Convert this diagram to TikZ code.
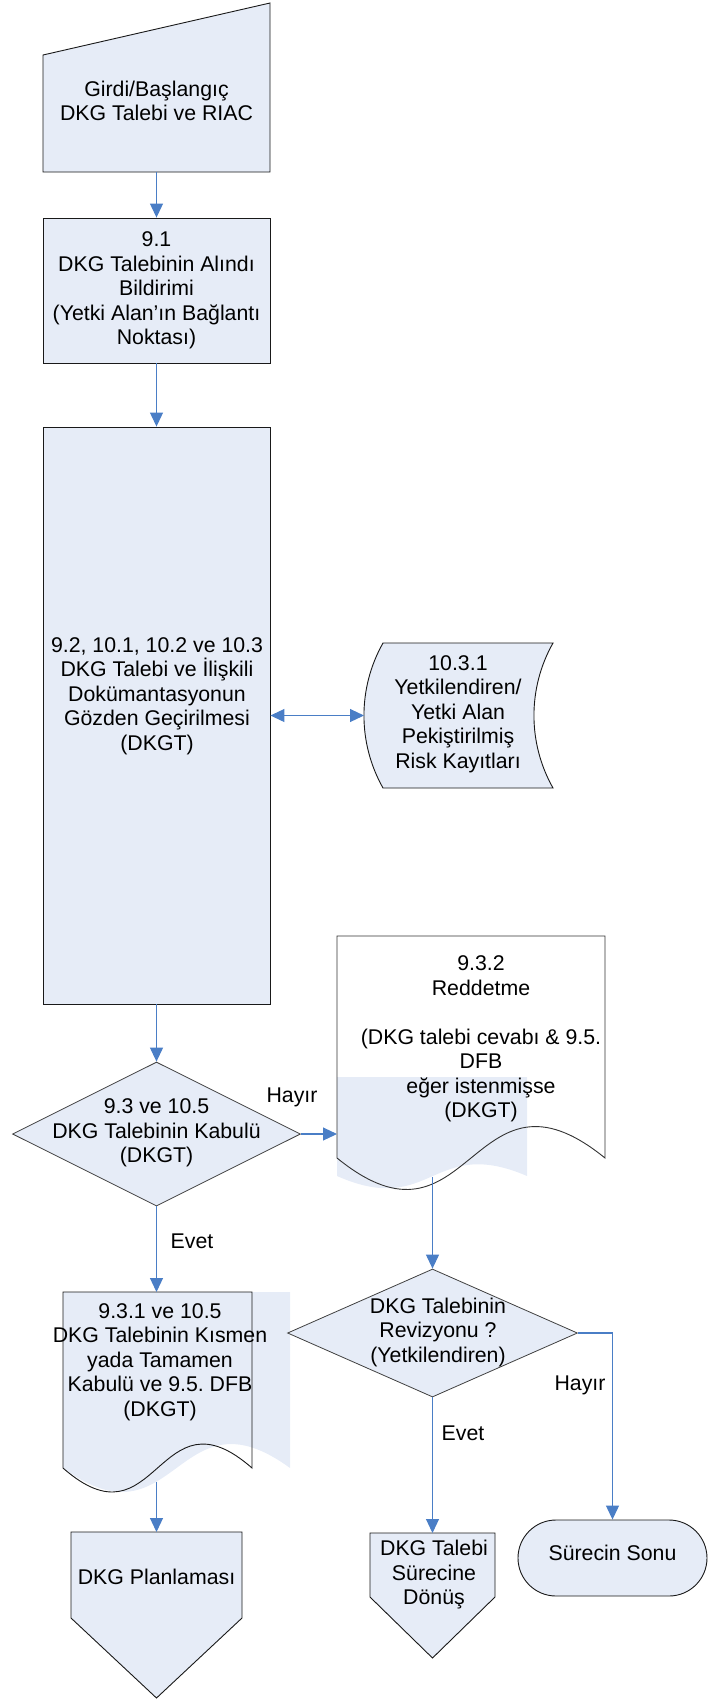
\documentclass[tikz,border=0pt]{standalone}
\usepackage{fontspec}
\setmainfont{Liberation Sans}
\usetikzlibrary{shapes.geometric,arrows.meta}
\definecolor{shapefill}{HTML}{E6ECF7}
\definecolor{flowblue}{HTML}{4A7EC6}
\newcommand{\pxu}{0.5pt}
\begin{document}
\frenchspacing
\begin{tikzpicture}[x=\pxu, y=-\pxu,
	txt/.style={inner sep=0pt, align=center, font=\fontsize{10.65}{12.25}\selectfont},
	box/.style={draw=black!90, line width=0.45pt, fill=shapefill, inner sep=0pt},
	decision/.style={diamond, draw=black!75, line width=0.4pt, fill=shapefill, inner sep=0pt},
	flow/.style={draw=flowblue, line width=0.55pt, -{Triangle[width=6.5pt, length=7pt]}},
	flowboth/.style={draw=flowblue, line width=0.55pt, {Triangle[width=6.5pt, length=7pt]}-{Triangle[width=6.5pt, length=7pt]}}]

	\useasboundingbox (0,0) rectangle (715,1699);

	\draw[box] (43,55) -- (270,3) -- (270,172) -- (43,172) -- cycle;
	\node[txt] (girdi) at (156.5,101) {Girdi/Başlangıç\\DKG Talebi ve RIAC};
	\coordinate (girdi-s) at (156.5,172);

	\node[box, txt, minimum width=227*\pxu, minimum height=145*\pxu] (b91) at (156.5,290.5) {9.1\\DKG Talebinin Alındı\\Bildirimi\\(Yetki Alan’ın Bağlantı\\Noktası)};

	\node[box, minimum width=227*\pxu, minimum height=577*\pxu] (b92) at (156.5,715.5) {};
	\node[txt] (b92t) at (157,696) {9.2, 10.1, 10.2 ve 10.3\\DKG Talebi ve İlişkili\\Dokümantasyonun\\Gözden Geçirilmesi\\(DKGT)};

	\draw[box] (383,643) -- (553,643) .. controls (527.6,688) and (527.6,743) .. (553,788) -- (383,788) .. controls (357.6,743) and (357.6,688) .. (383,643) -- cycle;
	\node[txt] (risk) at (458,714) {10.3.1\\Yetkilendiren/\\Yetki Alan\\Pekiştirilmiş\\Risk Kayıtları};
	\coordinate (risk-w) at (364,715.5);

	\node[decision, minimum width=288*\pxu, minimum height=144*\pxu] (d1) at (156.5,1134) {};
	\node[txt] (d1t) at (156.5,1133) {9.3 ve 10.5\\DKG Talebinin Kabulü\\(DKGT)};

	\fill[shapefill] (337,1077) -- (527,1077) -- (527,1176) .. controls (432,1135) and (432,1218) .. (337,1176) -- cycle;
	\draw[draw=black!80, line width=0.45pt] (337,936) -- (605,936) -- (605,1158) .. controls (471,1049) and (471,1267) .. (337,1158) -- cycle;
	\node[txt] (red) at (481,1039) {9.3.2\\Reddetme\\[12.25pt](DKG talebi cevabı \& 9.5.\\DFB\\eğer istenmişse\\(DKGT)};
	\coordinate (red-w) at (337,1134);
	\coordinate (red-s) at (432.5,1177);

	\fill[shapefill] (63,1292) -- (290,1292) -- (290,1468) .. controls (176.5,1385) and (176.5,1551) .. (63,1468) -- cycle;
	\draw[draw=black!90, line width=0.45pt] (63,1292) -- (252,1292) -- (252,1468) .. controls (157.5,1385) and (157.5,1551) .. (63,1468) -- cycle;
	\node[txt] (kabul) at (160,1362) {9.3.1 ve 10.5\\DKG Talebinin Kısmen\\yada Tamamen\\Kabulü ve 9.5. DFB\\(DKGT)};
	\coordinate (kabul-n) at (156.5,1292);
	\coordinate (kabul-s) at (156.5,1482);

	\draw[box] (71,1532) -- (242,1532) -- (242,1618) -- (156.5,1698) -- (71,1618) -- cycle;
	\node[txt] (plan) at (156.5,1577) {DKG Planlaması};
	\coordinate (plan-n) at (156.5,1532);

	\node[decision, minimum width=290*\pxu, minimum height=128*\pxu] (d2) at (432.5,1333) {};
	\node[txt] (d2t) at (438,1332) {DKG Talebinin\\Revizyonu ?\\(Yetkilendiren)};

	\draw[box] (370,1533) -- (495,1533) -- (495,1597) -- (432.5,1658) -- (370,1597) -- cycle;
	\node[txt] (donus) at (434,1575) {DKG Talebi\\Sürecine\\Dönüş};
	\coordinate (donus-n) at (432.5,1533);

	\node[box, rounded corners=19pt, minimum width=189*\pxu, minimum height=76*\pxu] (son) at (612.5,1558) {};
	\node[txt] (sont) at (612.5,1553) {Sürecin Sonu};

	\draw[flow] (girdi-s) -- (b91.north);
	\draw[flow] (b91.south) -- (b92.north);
	\draw[flowboth] (b92.east) -- (risk-w);
	\draw[flow] (b92.south) -- (d1.north);
	\draw[flow] (d1.east) -- (red-w);
	\node[txt] (hayir1) at (292,1097) {Hayır};
	\draw[flow] (d1.south) -- (kabul-n);
	\node[txt] (evet1) at (192,1241) {Evet};
	\draw[flow] (red-s) -- (d2.north);
	\draw[flow] (kabul-s) -- (plan-n);
	\draw[flow] (d2.south) -- (donus-n);
	\node[txt] (evet2) at (463,1433) {Evet};
	\draw[flow] (d2.east) -| (son.north);
	\node[txt] (hayir2) at (580,1385) {Hayır};

\end{tikzpicture}
\end{document}
